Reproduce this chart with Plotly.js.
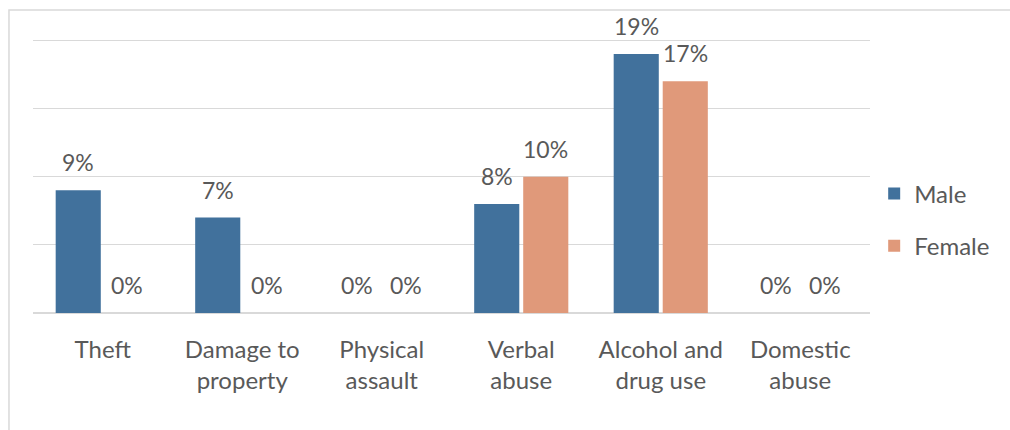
<!DOCTYPE html>
<html>
<head>
<meta charset="utf-8">
<script src="https://cdn.plot.ly/plotly-3.0.1.min.js"></script>
<style>
  html, body { margin: 0; padding: 0; background: #ffffff; }
  #chart { width: 1010px; height: 430px; }
</style>
</head>
<body>
<div id="chart"></div>
<script>
// Incident categories (two-line tick labels)
const categories = ['Theft', 'Damage to<br>property', 'Physical<br>assault', 'Verbal<br>abuse', 'Alcohol and<br>drug use', 'Domestic<br>abuse'];
// Percentage of respondents by sex
const maleValues = [9, 7, 0, 8, 19, 0];
const femaleValues = [0, 0, 0, 10, 17, 0];
const seriesNames = ['Male', 'Female'];
const seriesColors = ['#41719c', '#e0997a'];
const gridValues = [0, 5, 10, 15, 20];

const textColor = '#595959';
const gridColor = '#d9d9d9';
const fontFamily = 'Lato, "Open Sans", sans-serif';

const pct = v => v + '%';

const traces = [maleValues, femaleValues].map((vals, i) => ({
  type: 'bar', name: seriesNames[i], x: categories, y: vals,
  marker: { color: seriesColors[i] },
  legendgroup: 'g' + i, hoverinfo: 'x+y'
}));

// Value labels sit above each bar; horizontal offset puts them over
// the male (left) or female (right) bar of each group.
const barOffset = 24.5;
const annotations = [];
[maleValues, femaleValues].forEach((vals, i) => {
  vals.forEach((v, j) => {
    annotations.push({
      x: categories[j], y: v, xref: 'x', yref: 'y',
      text: pct(v), showarrow: false,
      xanchor: 'center', yanchor: 'bottom',
      xshift: i === 0 ? -barOffset : barOffset, yshift: 12,
      font: { size: 23, color: textColor, family: fontFamily }
    });
  });
});

const layout = {
  width: 1010, height: 430,
  margin: { l: 33, r: 140, t: 39, b: 117 },
  paper_bgcolor: '#ffffff', plot_bgcolor: '#ffffff',
  font: { family: fontFamily, color: textColor, size: 24 },
  barmode: 'group', bargap: 0.297, bargroupgap: 0.08,
  showlegend: true,
  legend: {
    x: 1.005, xanchor: 'left', y: 0.34, yanchor: 'middle',
    font: { size: 24, color: textColor, family: fontFamily },
    traceorder: 'grouped', tracegroupgap: 18,
    itemwidth: 30
  },
  xaxis: {
    type: 'category', showgrid: false, showline: false, zeroline: false,
    ticks: 'outside', ticklen: 15, tickcolor: 'rgba(0,0,0,0)',
    tickfont: { size: 24, color: textColor, family: fontFamily },
    fixedrange: true
  },
  yaxis: {
    range: [0, 20.1], tickvals: gridValues, showgrid: true, gridcolor: gridColor, gridwidth: 1.3,
    showticklabels: false, zeroline: true, zerolinecolor: gridColor, zerolinewidth: 1.3,
    showline: false, fixedrange: true
  },
  annotations: annotations,
  shapes: [
    // outer chart frame (top and left edges visible)
    {
      type: 'rect', xref: 'paper', yref: 'paper',
      x0: -0.0287, x1: 2, y0: -2, y1: 1.106,
      line: { color: gridColor, width: 1.5 }, fillcolor: 'rgba(0,0,0,0)', layer: 'below'
    }
  ]
};

Plotly.newPlot('chart', traces, layout, { displayModeBar: false, staticPlot: true });
</script>
</body>
</html>
